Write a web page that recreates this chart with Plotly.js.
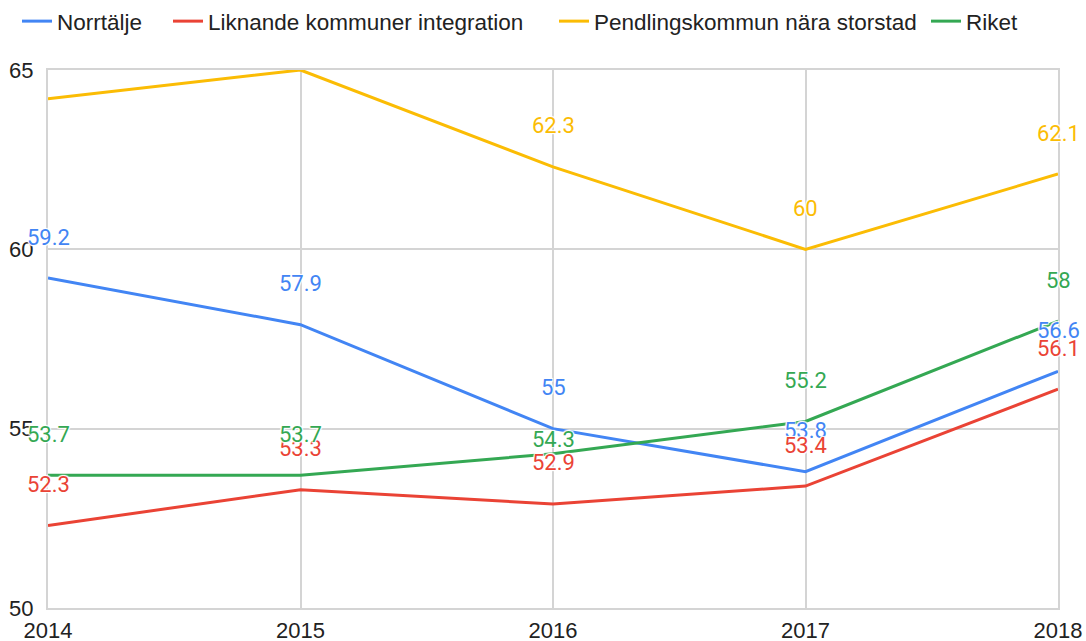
<!DOCTYPE html>
<html>
<head>
<meta charset="utf-8">
<script src="https://cdn.plot.ly/plotly-3.0.1.min.js"></script>
<style>
html,body{margin:0;padding:0;background:#fff;}
#chart{width:1086px;height:641px;}
</style>
</head>
<body>
<div id="chart"></div>
<script>
var years = [2014, 2015, 2016, 2017, 2018];
var norrtalje = [59.2, 57.9, 55, 53.8, 56.6];
var liknande = [52.3, 53.3, 52.9, 53.4, 56.1];
var pendling = [64.2, 65, 62.3, 60, 62.1];
var riket = [53.7, 53.7, 54.3, 55.2, 58];
var seriesNames = ["Norrtälje", "Liknande kommuner integration", "Pendlingskommun nära storstad", "Riket"];
var yTicks = [50, 55, 60, 65];

var seriesValues = [norrtalje, liknande, pendling, riket];
var colors = ["#4285F4", "#EA4335", "#FBBC04", "#34A853"];
// labels hidden in the reference (clipped at top)
var hidden = {"2-0": true, "2-1": true};
// labels shifted to avoid overlap
var shifts = {"3-2": 14};
var legendIds = ["legend", "legend2", "legend3", "legend4"];
var legendX = [17, 168, 554, 926];

var traces = seriesValues.map(function (vals, i) {
  return {
    x: years, y: vals, name: seriesNames[i], type: "scatter", mode: "lines",
    line: {color: colors[i], width: 3}, hoverinfo: "skip", cliponaxis: false,
    legend: legendIds[i]
  };
});

var annotations = [];
seriesValues.forEach(function (vals, i) {
  vals.forEach(function (v, j) {
    if (hidden[i + "-" + j]) return;
    annotations.push({
      x: years[j], y: v, xref: "x", yref: "y", text: String(v),
      showarrow: false, yshift: shifts[i + "-" + j] !== undefined ? shifts[i + "-" + j] : 41,
      font: {family: "Roboto, Arial, sans-serif", size: 22, color: colors[i],
             shadow: "1px 1px 1px #fff, -1px -1px 1px #fff, 1px -1px 1px #fff, -1px 1px 1px #fff"},
      xanchor: "center", yanchor: "middle"
    });
  });
});

var gridColor = "#d4d4d4";
var layout = {
  width: 1086, height: 641,
  margin: {l: 48, r: 28, t: 70, b: 33, pad: 0},
  paper_bgcolor: "#fff", plot_bgcolor: "#fff",
  font: {family: "Liberation Sans, Arial, sans-serif", size: 22, color: "#222"},
  showlegend: true,
  xaxis: {
    range: [2014, 2018], tickvals: years, ticktext: years.map(String),
    showgrid: true, gridcolor: gridColor, gridwidth: 2, zeroline: false,
    showline: true, mirror: true, linecolor: gridColor, linewidth: 2,
    ticks: "", tickfont: {size: 22, color: "#222"}, ticklabelstandoff: 2, fixedrange: true
  },
  yaxis: {
    range: [50, 65], tickvals: yTicks, ticktext: yTicks.map(String),
    showgrid: true, gridcolor: gridColor, gridwidth: 2, zeroline: false,
    showline: true, mirror: true, linecolor: gridColor, linewidth: 2,
    ticks: "", tickfont: {size: 22, color: "#222"}, ticklabelstandoff: 8, fixedrange: true
  },
  annotations: annotations
};
legendIds.forEach(function (id, i) {
  layout[id] = {orientation: "h", xref: "container", x: legendX[i] / 1086, xanchor: "left",
                yref: "container", y: 1.0, yanchor: "top", bgcolor: "rgba(0,0,0,0)",
                font: {size: 22.5, color: "#222"}};
});

Plotly.newPlot("chart", traces, layout, {displayModeBar: false, staticPlot: true});
</script>
</body>
</html>
